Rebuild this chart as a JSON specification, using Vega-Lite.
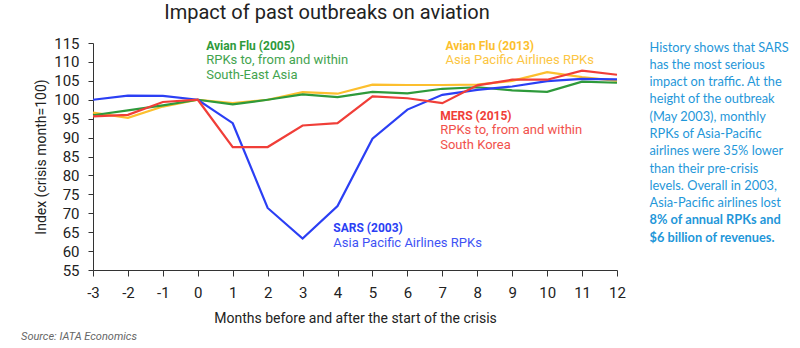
{
  "$schema": "https://vega.github.io/schema/vega-lite/v6.json",
  "autosize": {"type": "none"},
  "width": 524,
  "height": 227,
  "padding": {"left": 93, "top": 43, "right": 183, "bottom": 78},
  "background": "white",
  "title": {"text": "Impact of past outbreaks on aviation", "anchor": "middle", "dx": -28, "offset": 13, "font": "Roboto", "fontSize": 20, "fontWeight": "normal", "color": "#222222"},
  "config": {
    "view": {"stroke": null},
    "axis": {"grid": false, "domainColor": "#333333", "tickColor": "#333333", "labelColor": "#222222", "titleColor": "#222222", "labelFont": "Roboto", "titleFont": "Roboto", "titleFontWeight": "normal", "labelFontSize": 15, "titleFontSize": 14, "labelOverlap": false, "labelExpr": "toString(datum.value)"}
  },
  "datasets": {
    "series": [
      {"series": "Avian Flu (2013)", "month": -3, "index": 96.6},
      {"series": "Avian Flu (2013)", "month": -2, "index": 95.2},
      {"series": "Avian Flu (2013)", "month": -1, "index": 98.2},
      {"series": "Avian Flu (2013)", "month": 0, "index": 100},
      {"series": "Avian Flu (2013)", "month": 1, "index": 99.1},
      {"series": "Avian Flu (2013)", "month": 2, "index": 100},
      {"series": "Avian Flu (2013)", "month": 3, "index": 102},
      {"series": "Avian Flu (2013)", "month": 4, "index": 101.6},
      {"series": "Avian Flu (2013)", "month": 5, "index": 104},
      {"series": "Avian Flu (2013)", "month": 6, "index": 103.9},
      {"series": "Avian Flu (2013)", "month": 7, "index": 103.9},
      {"series": "Avian Flu (2013)", "month": 8, "index": 104.0},
      {"series": "Avian Flu (2013)", "month": 9, "index": 105.0},
      {"series": "Avian Flu (2013)", "month": 10, "index": 107.3},
      {"series": "Avian Flu (2013)", "month": 11, "index": 106.0},
      {"series": "Avian Flu (2013)", "month": 12, "index": 105.0},
      {"series": "Avian Flu (2005)", "month": -3, "index": 95.9},
      {"series": "Avian Flu (2005)", "month": -2, "index": 97.2},
      {"series": "Avian Flu (2005)", "month": -1, "index": 98.5},
      {"series": "Avian Flu (2005)", "month": 0, "index": 100},
      {"series": "Avian Flu (2005)", "month": 1, "index": 98.8},
      {"series": "Avian Flu (2005)", "month": 2, "index": 100},
      {"series": "Avian Flu (2005)", "month": 3, "index": 101.4},
      {"series": "Avian Flu (2005)", "month": 4, "index": 100.7},
      {"series": "Avian Flu (2005)", "month": 5, "index": 102.1},
      {"series": "Avian Flu (2005)", "month": 6, "index": 101.7},
      {"series": "Avian Flu (2005)", "month": 7, "index": 102.9},
      {"series": "Avian Flu (2005)", "month": 8, "index": 103.3},
      {"series": "Avian Flu (2005)", "month": 9, "index": 102.5},
      {"series": "Avian Flu (2005)", "month": 10, "index": 102.1},
      {"series": "Avian Flu (2005)", "month": 11, "index": 104.8},
      {"series": "Avian Flu (2005)", "month": 12, "index": 104.5},
      {"series": "SARS (2003)", "month": -3, "index": 100},
      {"series": "SARS (2003)", "month": -2, "index": 101.1},
      {"series": "SARS (2003)", "month": -1, "index": 101.0},
      {"series": "SARS (2003)", "month": 0, "index": 100},
      {"series": "SARS (2003)", "month": 1, "index": 93.8},
      {"series": "SARS (2003)", "month": 2, "index": 71.4},
      {"series": "SARS (2003)", "month": 3, "index": 63.3},
      {"series": "SARS (2003)", "month": 4, "index": 71.9},
      {"series": "SARS (2003)", "month": 5, "index": 89.7},
      {"series": "SARS (2003)", "month": 6, "index": 97.4},
      {"series": "SARS (2003)", "month": 7, "index": 101.3},
      {"series": "SARS (2003)", "month": 8, "index": 102.6},
      {"series": "SARS (2003)", "month": 9, "index": 103.5},
      {"series": "SARS (2003)", "month": 10, "index": 104.9},
      {"series": "SARS (2003)", "month": 11, "index": 105.5},
      {"series": "SARS (2003)", "month": 12, "index": 105.4},
      {"series": "MERS (2015)", "month": -3, "index": 95.6},
      {"series": "MERS (2015)", "month": -2, "index": 96.0},
      {"series": "MERS (2015)", "month": -1, "index": 99.4},
      {"series": "MERS (2015)", "month": 0, "index": 100},
      {"series": "MERS (2015)", "month": 1, "index": 87.5},
      {"series": "MERS (2015)", "month": 2, "index": 87.5},
      {"series": "MERS (2015)", "month": 3, "index": 93.2},
      {"series": "MERS (2015)", "month": 4, "index": 93.8},
      {"series": "MERS (2015)", "month": 5, "index": 100.9},
      {"series": "MERS (2015)", "month": 6, "index": 100.4},
      {"series": "MERS (2015)", "month": 7, "index": 99.1},
      {"series": "MERS (2015)", "month": 8, "index": 103.8},
      {"series": "MERS (2015)", "month": 9, "index": 105.3},
      {"series": "MERS (2015)", "month": 10, "index": 105.3},
      {"series": "MERS (2015)", "month": 11, "index": 107.7},
      {"series": "MERS (2015)", "month": 12, "index": 106.6}
    ],
    "labels": [
      {"series": "Avian Flu (2005)", "month": 0.24, "head": 113.27, "sub": 109.45, "detail": "RPKs to, from and within\nSouth-East Asia"},
      {"series": "Avian Flu (2013)", "month": 7.09, "head": 113.27, "sub": 109.45, "detail": "Asia Pacific Airlines RPKs"},
      {"series": "MERS (2015)", "month": 6.94, "head": 94.54, "sub": 91.03, "detail": "RPKs to, from and within\nSouth Korea"},
      {"series": "SARS (2003)", "month": 3.88, "head": 64.99, "sub": 61.1, "detail": "Asia Pacific Airlines RPKs"}
    ],
    "notes": [
      {"month": 12.93, "index": 112.74, "note": "History shows that SARS\nhas the most serious\nimpact on traffic. At the\nheight of the outbreak\n(May 2003), monthly\nRPKs of Asia-Pacific\nairlines were 35% lower\nthan their pre-crisis\nlevels. Overall in 2003,\nAsia-Pacific airlines lost", "bold": "8% of annual RPKs and\n$6 billion of revenues.", "boldIndex": 67.1, "source": "Source: IATA Economics", "sourceMonth": -5.06, "sourceIndex": 37.4}
    ]
  },
  "encoding": {
    "x": {"field": "month", "type": "quantitative", "scale": {"domain": [-3, 12], "nice": false, "zero": false},
      "axis": {"values": [-3, -2, -1, 0, 1, 2, 3, 4, 5, 6, 7, 8, 9, 10, 11, 12], "title": "Months before and after the start of the crisis", "tickSize": 6, "labelPadding": 9, "titlePadding": 11, "labelFlush": false, "labelOverlap": false}},
    "y": {"field": "index", "type": "quantitative", "scale": {"domain": [55, 115], "nice": false, "zero": false},
      "axis": {"values": [55, 60, 65, 70, 75, 80, 85, 90, 95, 100, 105, 110, 115], "title": "Index (crisis month=100)", "tickSize": 5, "labelPadding": 9, "titlePadding": 5, "labelOverlap": false, "labelBound": false, "labelFlush": false}}
  },
  "layer": [
    {
      "data": {"name": "series"},
      "mark": {"type": "line", "strokeWidth": 2.2},
      "encoding": {
        "color": {"field": "series", "type": "nominal", "legend": null,
          "scale": {"domain": ["Avian Flu (2013)", "Avian Flu (2005)", "SARS (2003)", "MERS (2015)"], "range": ["#fcbf2e", "#2e9a3b", "#2b3ff4", "#f03e38"]}}
      }
    },
    {
      "data": {"values": [{}]},
      "mark": {"type": "rule", "strokeDash": [3, 3], "color": "#222222", "strokeWidth": 1},
      "encoding": {"y": {"datum": 100, "type": "quantitative"}, "x": null}
    },
    {
      "data": {"values": [{}]},
      "mark": {"type": "rule", "strokeDash": [3, 3], "color": "#222222", "strokeWidth": 1},
      "encoding": {"x": {"datum": 0, "type": "quantitative"}, "y": {"datum": 116.8, "type": "quantitative"}, "y2": {"datum": 55}}
    },
    {
      "data": {"name": "labels"},
      "mark": {"type": "text", "align": "left", "baseline": "alphabetic", "font": "Roboto", "fontSize": 12, "fontWeight": "bold"},
      "encoding": {
        "y": {"field": "head", "type": "quantitative"},
        "text": {"field": "series"},
        "color": {"field": "series", "type": "nominal", "legend": null}
      }
    },
    {
      "data": {"name": "labels"},
      "mark": {"type": "text", "align": "left", "baseline": "alphabetic", "font": "Roboto", "fontSize": 13, "lineBreak": "\n", "lineHeight": 15, "opacity": 0.9},
      "encoding": {
        "y": {"field": "sub", "type": "quantitative"},
        "text": {"field": "detail"},
        "color": {"field": "series", "type": "nominal", "legend": null}
      }
    },
    {
      "data": {"name": "notes"},
      "mark": {"type": "text", "align": "left", "baseline": "alphabetic", "font": "Lato", "fontSize": 12.8, "lineBreak": "\n", "lineHeight": 17.3, "color": "#1f97d9"},
      "encoding": {
        "y": {"field": "index", "type": "quantitative"},
        "text": {"field": "note"}
      }
    },
    {
      "data": {"name": "notes"},
      "mark": {"type": "text", "align": "left", "baseline": "alphabetic", "font": "Lato", "fontSize": 12.8, "fontWeight": "bold", "lineBreak": "\n", "lineHeight": 17.3, "color": "#1f97d9"},
      "encoding": {
        "y": {"field": "boldIndex", "type": "quantitative"},
        "text": {"field": "bold"}
      }
    },
    {
      "data": {"name": "notes"},
      "mark": {"type": "text", "align": "left", "baseline": "middle", "font": "Roboto", "fontSize": 11, "fontStyle": "italic", "color": "#666666"},
      "encoding": {
        "x": {"field": "sourceMonth", "type": "quantitative"},
        "y": {"field": "sourceIndex", "type": "quantitative"},
        "text": {"field": "source"}
      }
    }
  ]
}
